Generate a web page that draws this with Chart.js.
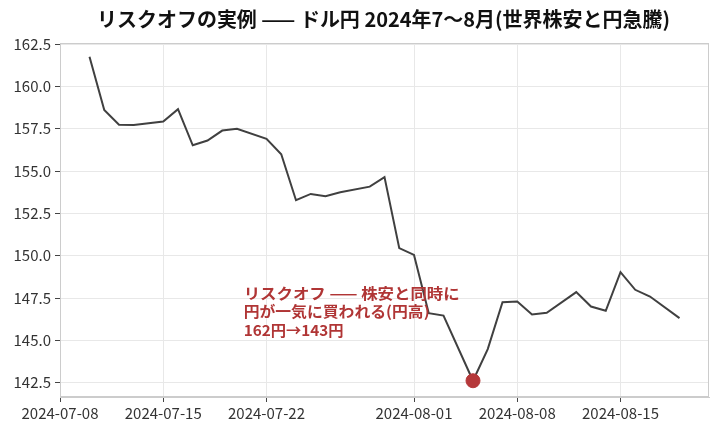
<!DOCTYPE html>
<html>
<head>
<meta charset="utf-8">
<script src="https://cdn.jsdelivr.net/npm/chart.js@4.4.1/dist/chart.umd.min.js"></script>
<style>
  html, body { margin: 0; padding: 0; background: #fff; }
  #wrap { width: 718px; height: 432px; }
</style>
</head>
<body>
<div id="wrap"><canvas id="c" width="718" height="432"></canvas></div>
<script>
const FONT = '"Noto Sans CJK JP", "Noto Sans", sans-serif';

// USD/JPY daily closes
const dates = ['2024-07-10','2024-07-11','2024-07-12','2024-07-13','2024-07-15','2024-07-16','2024-07-17','2024-07-18','2024-07-19','2024-07-20',
  '2024-07-22','2024-07-23','2024-07-24','2024-07-25','2024-07-26','2024-07-27','2024-07-29','2024-07-30','2024-07-31','2024-08-01',
  '2024-08-02','2024-08-03','2024-08-05','2024-08-06','2024-08-07','2024-08-08','2024-08-09','2024-08-10','2024-08-12','2024-08-13',
  '2024-08-14','2024-08-15','2024-08-16','2024-08-17','2024-08-19'];
const usdjpy = [161.75,158.60,157.74,157.72,157.92,158.65,156.52,156.80,157.39,157.50,
  156.90,155.99,153.28,153.65,153.51,153.75,154.08,154.64,150.45,150.05,
  146.61,146.47,142.62,144.49,147.26,147.30,146.53,146.63,147.85,147.00,
  146.75,149.03,147.99,147.59,146.32];

const lowDate = '2024-08-05';
const lowValue = 142.62;

const xTickDates = ['2024-07-08','2024-07-15','2024-07-22','2024-08-01','2024-08-08','2024-08-15'];
const yTicks = [142.5,145.0,147.5,150.0,152.5,155.0,157.5,160.0,162.5];

const titleText = 'リスクオフの実例 —— ドル円 2024年7〜8月(世界株安と円急騰)';
const noteLines = ['リスクオフ —— 株安と同時に', '円が一気に買われる(円高)', '162円→143円'];
const noteDay = 12.45;   // days after 07-08 where the note starts
const noteValue = 147.8;

const BASE = Date.UTC(2024, 6, 8);
const toDay = s => {
  const [y, m, d] = s.split('-').map(Number);
  return (Date.UTC(y, m - 1, d) - BASE) / 86400000;
};
const fromDay = v => new Date(BASE + v * 86400000).toISOString().slice(0, 10);

const linePts = dates.map((d, i) => ({ x: toDay(d), y: usdjpy[i] }));

// draws text squeezed/stretched to a target width
function fitText(ctx, text, x, y, width) {
  const w = ctx.measureText(text).width;
  ctx.save();
  ctx.translate(x, y);
  ctx.scale(width / w, 1);
  ctx.fillText(text, 0, 0);
  ctx.restore();
}

const framePlugin = {
  id: 'frame',
  beforeDraw(chart) {
    const ctx = chart.ctx;
    ctx.save();
    ctx.fillStyle = '#fff';
    ctx.fillRect(0, 0, chart.width, chart.height);
    ctx.restore();
  },
  afterDatasetsDraw(chart) {
    const { ctx, chartArea: a, scales } = chart;
    ctx.save();
    ctx.strokeStyle = '#cccccc';
    ctx.lineWidth = 1;
    ctx.strokeRect(a.left + 0.5, a.top + 0.5, a.right - a.left - 1, a.bottom - a.top - 1);

    // annotation
    ctx.fillStyle = '#b03535';
    ctx.font = 'bold 15px ' + FONT;
    ctx.textAlign = 'left';
    ctx.textBaseline = 'middle';
    const nx = scales.x.getPixelForValue(noteDay);
    const ny = scales.y.getPixelForValue(noteValue);
    const noteW = [216, 186, 100];
    noteLines.forEach((t, i) => fitText(ctx, t, nx, ny + i * 18.5, noteW[i]));

    // title centred over the plot area
    ctx.fillStyle = '#111';
    ctx.font = 'bold 20px ' + FONT;
    fitText(ctx, titleText, 97, 19, 573);
    ctx.restore();
  }
};

new Chart(document.getElementById('c'), {
  type: 'line',
  data: {
    datasets: [
      {
        label: 'USD/JPY',
        data: linePts,
        borderColor: '#404040',
        borderWidth: 2,
        pointRadius: 0,
        tension: 0,
        order: 2
      },
      {
        label: 'low',
        data: [{ x: toDay(lowDate), y: lowValue }],
        showLine: false,
        pointRadius: 7,
        pointBackgroundColor: '#b5383a',
        pointBorderColor: '#b5383a',
        order: 1
      }
    ]
  },
  options: {
    responsive: false,
    animation: false,
    devicePixelRatio: 1,
    layout: { padding: { top: 43, right: 9, left: 0, bottom: 0 } },
    plugins: {
      legend: { display: false },
      tooltip: { enabled: false },
      title: { display: false }
    },
    scales: {
      x: {
        type: 'linear',
        min: 0,
        max: toDay('2024-08-21'),
        afterBuildTicks: axis => { axis.ticks = xTickDates.map(d => ({ value: toDay(d) })); },
        afterFit: axis => { axis.height = 35; },
        grid: { color: '#e8e8e8', tickColor: '#444', tickLength: 5 },
        border: { color: '#cccccc' },
        ticks: {
          color: '#333',
          font: { family: FONT, size: 15 },
          padding: 2,
          maxRotation: 0,
          autoSkip: false,
          callback: v => fromDay(v)
        }
      },
      y: {
        min: 141.66,
        max: 162.56,
        afterBuildTicks: axis => { axis.ticks = yTicks.map(v => ({ value: v })); },
        afterFit: axis => { axis.width = 60; },
        grid: { color: '#e8e8e8', tickColor: '#444', tickLength: 5 },
        border: { color: '#cccccc' },
        ticks: {
          color: '#333',
          font: { family: FONT, size: 15 },
          padding: 4,
          autoSkip: false,
          callback: v => Number(v).toFixed(1)
        }
      }
    }
  },
  plugins: [framePlugin]
});
</script>
</body>
</html>
